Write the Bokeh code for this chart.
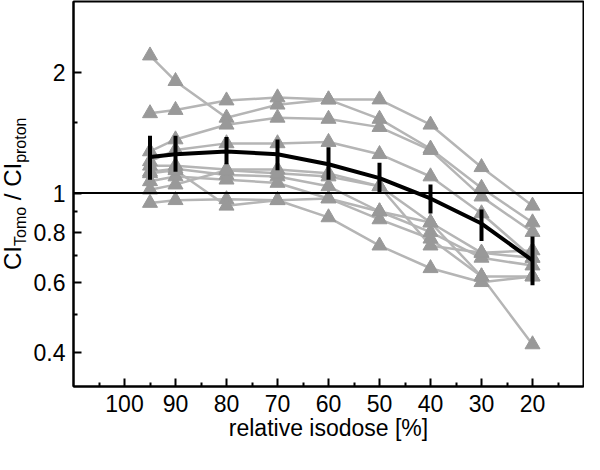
import math
from bokeh.plotting import figure
from bokeh.layouts import row
from bokeh.models import Range1d, FixedTicker, CustomJSTickFormatter, Span, Div
from bokeh.embed import file_html
from bokeh.resources import INLINE

# ---- data ----
isodose = [95, 90, 80, 70, 60, 50, 40, 30, 20]
s1 = [2.20, 1.90, 1.54, 1.66, 1.71, 1.53, 1.29, 1.03, 0.845]
s2 = [1.58, 1.61, 1.70, 1.73, 1.71, 1.71, 1.48, 1.16, 0.93]
s3 = [1.27, 1.36, 1.48, 1.54, 1.53, 1.46, 1.28, 0.98, 0.80]
s4 = [1.20, 1.28, 1.33, 1.33, 1.34, 1.25, 1.10, 0.89, 0.69]
s5 = [1.17, 1.17, 1.145, 1.145, 1.12, 1.04, 0.845, 0.71, 0.72]
s6 = [1.13, 1.15, 1.11, 1.10, 1.04, 0.90, 0.80, 0.69, 0.66]
s7 = [1.07, 1.10, 1.08, 1.06, 0.97, 0.86, 0.77, 0.62, 0.62]
s8 = [1.02, 1.05, 1.14, 1.12, 1.10, 1.04, 0.74, 0.71, 0.69]
s9 = [0.945, 0.96, 0.965, 0.96, 0.87, 0.74, 0.65, 0.60, 0.62]
s10 = [1.12, 1.14, 0.93, 0.96, 0.97, 0.90, 0.845, 0.62, 0.42]
series = [s1, s2, s3, s4, s5, s6, s7, s8, s9, s10]

mean_ci = [1.23, 1.25, 1.27, 1.25, 1.18, 1.09, 0.97, 0.84, 0.68]
upper_ci = [1.39, 1.39, 1.38, 1.36, 1.30, 1.19, 1.05, 0.91, 0.78]
lower_ci = [1.08, 1.13, 1.18, 1.14, 1.08, 1.00, 0.89, 0.76, 0.59]

x_major = [100, 90, 80, 70, 60, 50, 40, 30, 20]
x_minor = [105, 95, 85, 75, 65, 55, 45, 35, 25, 15]
y_major = [0.4, 0.6, 0.8, 1, 2]
y_minor = [0.5, 0.7, 0.9, 1.5]

FONT = "Liberation Sans"
H = 454
LAB_W = 30

# ---- main plot ----
p = figure(width=584 - LAB_W, height=H, y_axis_type="log",
           x_range=Range1d(110, 10), y_range=Range1d(0.33, 3.0),
           output_backend="svg", toolbar_location=None,
           min_border_left=40, min_border_right=1, min_border_top=1,
           min_border_bottom=68)
p.grid.visible = False
p.outline_line_color = "black"
p.outline_line_width = 2
p.outline_line_alpha = 1.0

p.xaxis.ticker = FixedTicker(ticks=x_major, minor_ticks=x_minor)
p.yaxis.ticker = FixedTicker(ticks=y_major, minor_ticks=y_minor)
p.yaxis.formatter = CustomJSTickFormatter(code="return String(Math.round(tick*10)/10);")
for ax in (p.xaxis[0], p.yaxis[0]):
    ax.axis_line_width = 2
    ax.major_tick_line_width = 2
    ax.minor_tick_line_width = 2
    ax.major_tick_in = 8
    ax.major_tick_out = 0
    ax.minor_tick_in = 4
    ax.minor_tick_out = 0
    ax.major_label_text_font = FONT
    ax.major_label_text_font_size = "23px"
    ax.major_label_text_color = "black"
p.xaxis.major_label_standoff = 8
p.yaxis.major_label_standoff = 8
p.xaxis.axis_label = "relative isodose [%]"
p.xaxis.axis_label_text_font = FONT
p.xaxis.axis_label_text_font_size = "23px"
p.xaxis.axis_label_text_font_style = "normal"
p.xaxis.axis_label_text_color = "black"
p.xaxis.axis_label_standoff = 0

p.add_layout(Span(location=1, dimension="width", line_color="black", line_width=2))

for s in series:
    p.line(isodose, s, line_color="#b5b5b5", line_width=2.5)
for s in series:
    p.scatter(isodose, s, marker="triangle", size=15, fill_color="#999999",
              line_color="#999999")

p.line(isodose, mean_ci, line_color="black", line_width=4)
p.segment(x0=isodose, y0=lower_ci, x1=isodose, y1=upper_ci,
          line_color="black", line_width=4)

# ---- y-axis title (rotated HTML text with subscripts) ----
sub = "font-size:16px;position:relative;top:5px;"
ylabel_html = (
    f'<div style="position:relative;width:{LAB_W}px;height:{H}px;">'
    f'<div style="position:absolute;left:3px;top:270px;white-space:nowrap;'
    f'font-family:\'{FONT}\';font-size:24px;line-height:20px;color:black;'
    f'transform:rotate(-90deg);transform-origin:0 0;">'
    f'CI<span style="{sub}">Tomo</span> / CI<span style="{sub}">proton</span>'
    f'</div></div>'
)
ylab = Div(text=ylabel_html, width=LAB_W, height=H, margin=(0, 0, 0, 0))

open("out.html", "w").write(file_html(row(ylab, p, spacing=0), INLINE))
